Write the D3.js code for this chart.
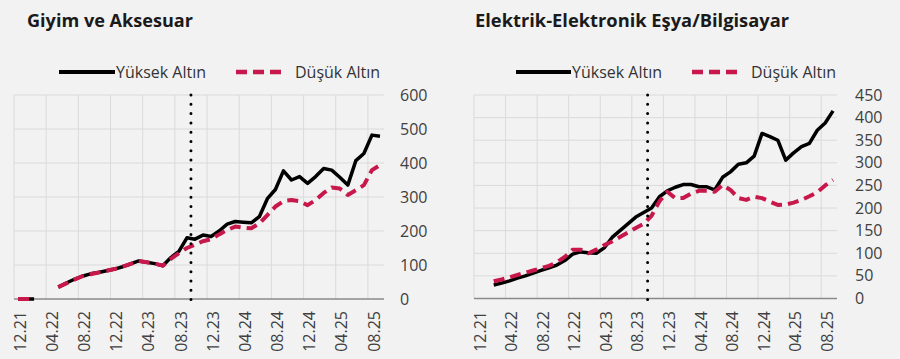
<!DOCTYPE html>
<html><head><meta charset="utf-8">
<script src="https://cdn.jsdelivr.net/npm/d3@7/dist/d3.min.js"></script>
<style>
html,body{margin:0;padding:0;background:#f2f2f2;}
svg{display:block;font-family:"Open Sans",sans-serif;}
</style></head>
<body><svg id="c" width="900" height="359"></svg>
<script>
const months = ["12.21","01.22","02.22","03.22","04.22","05.22","06.22","07.22","08.22","09.22","10.22","11.22",
"12.22","01.23","02.23","03.23","04.23","05.23","06.23","07.23","08.23","09.23","10.23","11.23",
"12.23","01.24","02.24","03.24","04.24","05.24","06.24","07.24","08.24","09.24","10.24","11.24",
"12.24","01.25","02.25","03.25","04.25","05.25","06.25","07.25","08.25","09.25"];
const tickLabels = ["12.21","04.22","08.22","12.22","04.23","08.23","12.23","04.24","08.24","12.24","04.25","08.25"];
const seriesNames = ["Yüksek Altın","Düşük Altın"];
const markerMonth = "10.23";

const giyimTitle = "Giyim ve Aksesuar";
const giyimHigh = [0,0,0,null,null,35,47,58,67,74,78,83,88,95,103,112,108,104,98,122,140,180,176,188,
  184,200,220,228,226,224,242,295,322,377,350,360,340,360,384,379,358,335,407,428,482,479];
const giyimLow = [0,0,0,null,null,35,46,57,67,73,78,83,88,95,103,112,108,104,98,118,135,150,160,170,
  176,190,203,213,210,208,222,247,272,288,291,288,276,291,312,328,325,306,320,335,379,394];
const giyimTicks = [0,100,200,300,400,500,600];

const elekTitle = "Elektrik-Elektronik Eşya/Bilgisayar";
const elekHigh = [null,null,30,34,39,45,50,56,62,68,74,84,98,103,101,100,112,135,150,165,180,190,200,225,
  238,246,252,252,247,247,240,268,280,297,300,315,365,358,350,306,322,336,343,372,388,415];
const elekLow = [null,null,38,42,47,52,57,62,67,72,80,92,108,108,100,108,118,126,136,146,156,165,183,215,
  236,222,222,232,238,238,236,251,240,222,218,225,222,214,207,208,212,218,226,235,250,262];
const elekTicks = [0,50,100,150,200,250,300,350,400,450];

const RED = "#c8174a";
const svg = d3.select("#c");

function panel(o){
  const g = svg.append("g");
  const x = d3.scaleBand().domain(months).range([o.x0,o.x1]).padding(0);
  const y = d3.scaleLinear().domain([0,o.ymax]).range([o.yb,o.yt]);
  const cx = m => x(m) + x.bandwidth()/2;
  // title
  g.append("text").attr("x",o.tx).attr("y",27).attr("font-weight","bold").attr("font-size",17)
    .attr("fill","#1a1a1a").attr("textLength",o.tw).attr("lengthAdjust","spacingAndGlyphs").text(o.title);
  // grid horizontal
  g.selectAll(".hg").data(o.ticks.filter(t=>t>0)).join("line")
    .attr("x1",o.x0).attr("x2",o.x1).attr("y1",d=>y(d)).attr("y2",d=>y(d))
    .attr("stroke","#dadada").attr("stroke-width",1);
  // grid vertical
  g.selectAll(".vg").data(tickLabels).join("line")
    .attr("x1",d=>x(d)).attr("x2",d=>x(d)).attr("y1",o.yt).attr("y2",o.yb)
    .attr("stroke","#dadada").attr("stroke-width",1);
  // axis line
  g.append("line").attr("x1",o.x0).attr("x2",o.x1).attr("y1",o.yb).attr("y2",o.yb)
    .attr("stroke","#8a8a8a").attr("stroke-width",1.5);
  // y labels
  g.selectAll(".yl").data(o.ticks).join("text")
    .attr("x",o.lx).attr("y",d=>y(d)).attr("dy","0.35em").attr("font-size",16)
    .attr("fill","#404040").text(d=>d);
  // x labels
  g.selectAll(".xl").data(tickLabels).join("text")
    .attr("transform",d=>`translate(${cx(d)+2},311) rotate(-90)`)
    .attr("text-anchor","end").attr("dy","0.35em").attr("font-size",16)
    .attr("fill","#404040").text(d=>d);
  const line = d3.line().defined(d=>d.v!=null).x(d=>cx(d.m)).y(d=>y(d.v));
  const hi = months.map((m,i)=>({m,v:o.high[i]}));
  const lo = months.map((m,i)=>({m,v:o.low[i]}));
  g.append("path").attr("d",line(hi)).attr("fill","none").attr("stroke","#000")
    .attr("stroke-width",3.5).attr("stroke-linejoin","round");
  g.append("path").attr("d",line(lo)).attr("fill","none").attr("stroke",RED)
    .attr("stroke-width",4).attr("stroke-dasharray","11,6").attr("stroke-linejoin","round");
  // marker dotted line
  const mx = x(markerMonth);
  g.append("line").attr("x1",mx).attr("x2",mx).attr("y1",o.yt).attr("y2",o.yb+3)
    .attr("stroke","#000").attr("stroke-width",3).attr("stroke-linecap","round")
    .attr("stroke-dasharray","0,9.3");
  // legend
  const ly = 72;
  g.append("line").attr("x1",o.leg[0]).attr("x2",o.leg[1]).attr("y1",ly).attr("y2",ly)
    .attr("stroke","#000").attr("stroke-width",4);
  g.append("text").attr("x",o.leg[1]+1).attr("y",78).attr("font-size",16).attr("fill","#333").text(seriesNames[0]);
  g.append("line").attr("x1",o.leg[2]).attr("x2",o.leg[3]).attr("y1",ly).attr("y2",ly)
    .attr("stroke",RED).attr("stroke-width",4.5).attr("stroke-dasharray","11,6");
  g.append("text").attr("x",o.leg[3]+9).attr("y",78).attr("font-size",16).attr("fill","#333").text(seriesNames[1]);
}

panel({x0:14,x1:384,yt:95,yb:299,ymax:600,ticks:giyimTicks,title:giyimTitle,tx:27,tw:166,lx:400,
  high:giyimHigh,low:giyimLow,leg:[59,115,236,286]});
panel({x0:474,x1:837,yt:95,yb:298.5,ymax:450,ticks:elekTicks,title:elekTitle,tx:475,tw:314,lx:855,
  high:elekHigh,low:elekLow,leg:[516,571,692,742]});
</script></body></html>
